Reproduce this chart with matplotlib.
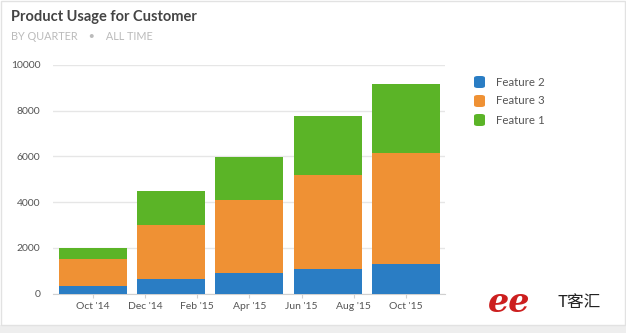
import matplotlib
matplotlib.use("Agg")
import matplotlib.pyplot as plt
from matplotlib.patches import FancyBboxPatch, Rectangle
import numpy as np

# Data
quarters = ["Q4 '14", "Q1 '15", "Q2 '15", "Q3 '15", "Q4 '15"]
bar_months = [0, 3, 6, 9, 12]          # months after Oct '14
feature2 = [330, 630, 880, 1090, 1300]
feature3 = [1180, 2370, 3230, 4080, 4850]
feature1 = [490, 1480, 1860, 2610, 3010]
tick_months = [0, 2, 4, 6, 8, 10, 12]
tick_labels = ["Oct '14", "Dec '14", "Feb '15", "Apr '15", "Jun '15", "Aug '15", "Oct '15"]
y_ticks = [0, 2000, 4000, 6000, 8000, 10000]

c_blue = '#2a7dc4'
c_orange = '#ef9134'
c_green = '#5bb427'

plt.rcParams['font.family'] = ['Lato', 'DejaVu Sans']

fig = plt.figure(figsize=(6.26, 3.33), dpi=100)
fig.patch.set_facecolor('white')

# bottom light strip and frame
fig.patches.append(Rectangle((0, 0), 1, 8/333, transform=fig.transFigure,
                             facecolor='#eeeeee', edgecolor='none', zorder=0))
fig.patches.append(Rectangle((0.001, 8/333), 0.998, 1 - 8/333 - 0.003, transform=fig.transFigure,
                             facecolor='none', edgecolor='#e2e2e2', lw=1, zorder=0))

ax = fig.add_axes([53/626, 1 - 293.5/333, (445 - 53)/626, (293.5 - 65)/333])
ax.set_facecolor('white')

w = 2.6
b1 = np.array(feature2)
b2 = b1 + np.array(feature3)
ax.bar(bar_months, feature2, width=w, color=c_blue, label='Feature 2', zorder=3)
ax.bar(bar_months, feature3, width=w, bottom=b1, color=c_orange, label='Feature 3', zorder=3)
ax.bar(bar_months, feature1, width=w, bottom=b2, color=c_green, label='Feature 1', zorder=3)

ax.set_xlim(-1.53, 13.5)
ax.set_ylim(0, 10000)
ax.set_yticks(y_ticks)
ax.set_yticklabels([str(v) for v in y_ticks])
ax.set_xticks(tick_months)
ax.set_xticklabels(tick_labels)
ax.yaxis.grid(True, color='#e6e6e6', lw=1, zorder=0)
ax.set_axisbelow(True)
for s in ['top', 'right', 'left']:
    ax.spines[s].set_visible(False)
ax.spines['bottom'].set_color('#d0d0d0')
ax.tick_params(axis='y', length=0, pad=9, labelsize=7.5, labelcolor='#555555')
ax.tick_params(axis='x', length=3, color='#d0d0d0', pad=3, labelsize=7.5, labelcolor='#555555')

# Title
fig.text(11/626, 1 - 17/333, 'Product Usage for Customer', fontsize=10.5, fontweight='bold',
         color='#444444', va='center', ha='left')
fig.text(11/626, 1 - 37/333, 'BY QUARTER    \u2022    ALL TIME', fontsize=7.8,
         color='#bbbbbb', va='center', ha='left')

# Legend
leg_items = [('Feature 2', c_blue), ('Feature 3', c_orange), ('Feature 1', c_green)]
for i, (lab, col) in enumerate(leg_items):
    yc = 82 + i * 19
    fig.patches.append(FancyBboxPatch((474/626, 1 - (yc + 6)/333), 11/626, 12/333,
                                      boxstyle='round,pad=0,rounding_size=0.006',
                                      transform=fig.transFigure, facecolor=col, edgecolor='none'))
    fig.text(496/626, 1 - yc/333, lab, fontsize=8.3, color='#555555', va='center', ha='left')

# Watermark
fig.text(488/626, 1 - 302/333, 'ee', fontsize=24, fontstyle='italic', fontweight='bold',
         color='#cc1f1f', family=['DejaVu Serif'], va='center', ha='left')
fig.text(557/626, 1 - 303/333, 'T客汇', fontsize=12, color='#222222',
         family=['Noto Sans CJK SC', 'DejaVu Sans'], va='center', ha='left')

fig.savefig('out.png', dpi=100, facecolor='white')
